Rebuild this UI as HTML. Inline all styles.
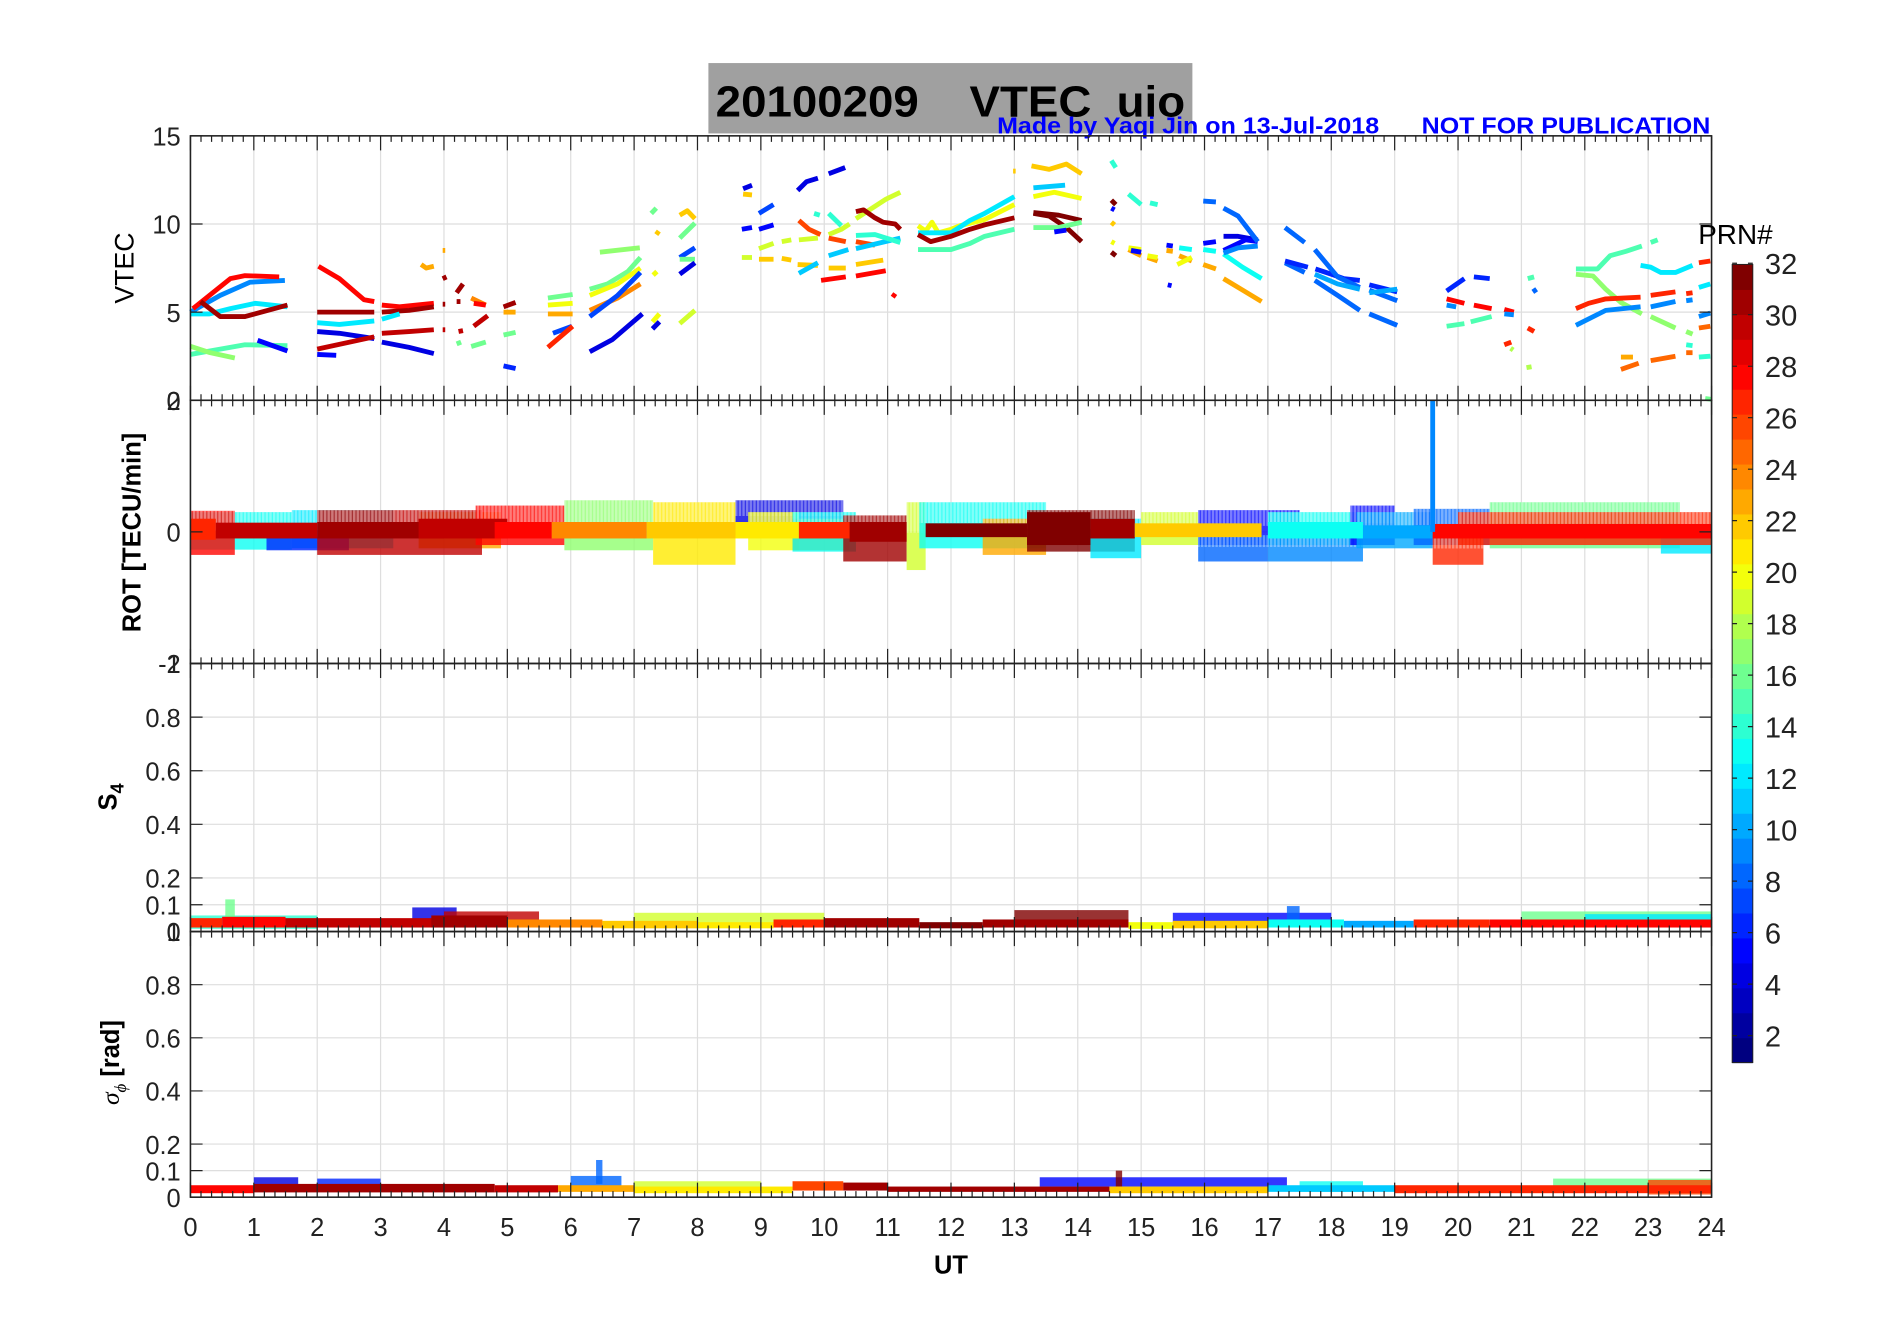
<!DOCTYPE html>
<html><head><meta charset="utf-8"><style>
html,body{margin:0;padding:0;background:#fff;}
svg{display:block;font-family:"Liberation Sans",sans-serif;}
</style></head><body>
<svg id="fig" width="1902" height="1330" viewBox="0 0 1568 1096.5" preserveAspectRatio="none" xmlns="http://www.w3.org/2000/svg">
<defs>
<pattern id="stripes" patternUnits="userSpaceOnUse" width="3" height="10">
<rect x="0" y="0" width="2" height="10" fill="#fff"/>
</pattern>
</defs>
<rect x="0" y="0" width="1568" height="1097" fill="#fff"/>
<rect x="584" y="52" width="399" height="58" fill="#a0a0a0"/>
<text x="590" y="96" font-size="36" font-weight="bold" textLength="387" lengthAdjust="spacingAndGlyphs" xml:space="preserve">20100209    VTEC  uio</text>
<text x="822" y="110" font-size="19" font-weight="bold" fill="#0000ff" textLength="315" lengthAdjust="spacingAndGlyphs">Made by Yaqi Jin on 13-Jul-2018</text>
<text x="1172" y="110" font-size="19" font-weight="bold" fill="#0000ff" textLength="238" lengthAdjust="spacingAndGlyphs">NOT FOR PUBLICATION</text>
<g id="grid"></g>
<g id="marks"></g>
<g id="axes"></g>
<text transform="translate(110,221) rotate(-90)" font-size="22" text-anchor="middle">VTEC</text>
<text transform="translate(116,439) rotate(-90)" font-size="21" font-weight="bold" text-anchor="middle">ROT [TECU/min]</text>
<text transform="translate(96,657) rotate(-90)" font-size="21" font-weight="bold" text-anchor="middle">S<tspan font-size="15" dy="6">4</tspan></text>
<text transform="translate(98,876) rotate(-90)" font-size="21" font-weight="bold" text-anchor="middle"><tspan font-family="Liberation Serif" font-style="italic" font-weight="normal">σ</tspan><tspan font-size="14" dy="6" font-family="Liberation Serif" font-style="italic" font-weight="normal">ϕ</tspan><tspan dy="-6"> [rad]</tspan></text>
<text x="784" y="1050" font-size="21" font-weight="bold" text-anchor="middle">UT</text>
<g id="cbar"></g>
<text x="1400" y="201" font-size="23">PRN#</text>
</svg>
<script>
// ---- data ----
const hourTicks = [0,1,2,3,4,5,6,7,8,9,10,11,12,13,14,15,16,17,18,19,20,21,22,23,24];
const vtecTicks = [0,5,10,15];
const rotTicks = [-2,0,2];
const s4Ticks = [0,0.1,0.2,0.4,0.6,0.8,1];
const sigTicks = [0,0.1,0.2,0.4,0.6,0.8,1];
const prnTicks = [2,4,6,8,10,12,14,16,18,20,22,24,26,28,30,32];
// VTEC tracks: [prn, [hour, tec, hour, tec, ...]]
const vtecTracks = [
[9,[0,5.0,0.47,5.95,0.94,6.7,1.49,6.8]],
[12,[0,4.9,0.3,4.9,0.63,5.2,1.02,5.5,1.53,5.3]],
[28,[0.04,5.2,0.63,6.9,0.86,7.07,1.4,7.0]],
[31,[0.16,5.6,0.47,4.75,0.86,4.75,1.53,5.4]],
[15,[0,2.6,0.47,2.9,0.86,3.15,1.53,3.1]],
[17,[0,3.06,0.31,2.7,0.7,2.4]],
[5,[1.06,3.4,1.53,2.8]],
[28,[2.02,7.6,2.35,6.9,2.74,5.7,2.9,5.6]],
[31,[2,5.0,2.9,5.0]],
[12,[2,4.4,2.35,4.3,2.9,4.5]],
[4,[2,3.9,2.35,3.8,2.9,3.5]],
[30,[2,2.9,2.9,3.6]],
[5,[2,2.6,2.3,2.55]],
[28,[3.02,5.4,3.3,5.3,3.84,5.5]],
[31,[3.02,5.0,3.45,5.1,3.84,5.3]],
[12,[3.02,4.6,3.3,4.9]],
[30,[3.02,3.8,3.45,3.9,3.84,4.0]],
[4,[3.02,3.3,3.45,3.0,3.84,2.65]],
[23,[3.64,7.7,3.72,7.5,3.84,7.6]],
[23,[3.98,8.5,4.02,8.5]],
[31,[3.98,5.45,4.02,5.45]],
[31,[4.2,5.6,4.26,5.6]],
[30,[3.98,4.0,4.02,4.0]],
[30,[4.23,3.9,4.3,3.95]],
[30,[4.47,4.2,4.69,4.8]],
[31,[3.98,6.9,4.04,7.0]],
[31,[4.2,6.1,4.3,6.6]],
[24,[4.43,5.8,4.66,5.4]],
[28,[4.47,5.5,4.66,5.4]],
[16,[4.2,3.2,4.27,3.3]],
[16,[4.43,3.05,4.66,3.3]],
[31,[4.94,5.3,5.13,5.55]],
[23,[4.94,5.0,5.13,5.0]],
[16,[4.94,3.7,5.13,3.85]],
[6,[4.94,1.95,5.13,1.8]],
[16,[5.64,5.8,6.03,6.0]],
[20,[5.64,5.4,6.03,5.5]],
[23,[5.64,4.9,6.03,4.9]],
[7,[5.72,3.8,6.02,4.2]],
[27,[5.64,3.0,6.03,4.2]],
[16,[6.3,6.3,6.58,6.6,6.9,7.3,7.1,8.1]],
[17,[6.46,8.4,7.09,8.65]],
[20,[6.3,5.95,6.74,6.6,7.1,7.5]],
[24,[6.3,5.1,6.74,5.8,7.1,6.6]],
[7,[6.3,4.75,6.74,5.95,7.1,7.25]],
[4,[6.3,2.75,6.66,3.45,7.13,4.9]],
[16,[7.27,10.6,7.35,10.9]],
[20,[7.29,4.45,7.4,4.9]],
[4,[7.29,4.05,7.4,4.45]],
[20,[7.3,7.1,7.36,7.3]],
[22,[7.35,9.4,7.39,9.6]],
[22,[7.72,10.5,7.84,10.75,7.96,10.3]],
[16,[7.72,9.2,7.96,10.05]],
[7,[7.72,8.1,7.96,8.65]],
[16,[7.72,8.0,7.96,8.0]],
[4,[7.72,7.15,7.96,7.8]],
[19,[7.72,4.35,7.96,5.1]],
[4,[8.72,12.0,8.86,12.2]],
[22,[8.72,11.7,8.86,11.65]],
[7,[8.97,10.6,9.2,11.1]],
[5,[8.7,9.7,8.86,9.8]],
[5,[8.97,9.7,9.2,9.95]],
[19,[8.7,8.1,8.86,8.1]],
[19,[8.97,8.6,9.2,8.9]],
[19,[9.33,9.0,9.48,9.1]],
[19,[9.6,9.1,9.9,9.2]],
[19,[10.07,9.4,10.27,9.7,10.4,10.0]],
[19,[10.5,10.3,10.97,11.4,11.2,11.8]],
[22,[8.97,8.0,9.2,8.0]],
[22,[9.33,8.05,9.48,7.95]],
[22,[9.58,7.7,9.9,7.65]],
[22,[10.07,7.5,10.34,7.5]],
[22,[10.5,7.7,10.93,7.95]],
[4,[9.58,11.9,9.72,12.4,9.9,12.6]],
[4,[10.07,12.85,10.33,13.2]],
[14,[9.84,10.6,9.93,10.5]],
[14,[10.07,10.6,10.27,9.9]],
[26,[9.6,10.2,9.76,9.7,9.94,9.4]],
[26,[10.07,9.2,10.34,9.0]],
[26,[10.5,9.0,10.8,8.8]],
[11,[9.6,7.2,9.9,7.8]],
[11,[10.07,8.2,10.38,8.55]],
[11,[10.5,8.6,11.2,9.2]],
[14,[10.5,9.35,10.8,9.4,11.2,8.95]],
[28,[9.95,6.8,10.34,7.0]],
[28,[10.5,7.05,10.97,7.35]],
[31,[10.5,10.7,10.62,10.8,10.8,10.35,10.93,10.1,11.12,10.0,11.2,9.7]],
[28,[11.08,5.85,11.12,6.05]],
[20,[11.48,9.9,11.6,9.6,11.7,10.1,11.8,9.5,12,9.7,12.14,9.9,12.53,10.25,13,11.1]],
[12,[11.48,9.5,12,9.5,12.3,10.2,12.53,10.6,13,11.55]],
[31,[11.48,9.4,11.68,9.0,12,9.3,12.3,9.7,12.53,9.95,13,10.35]],
[15,[11.48,8.55,12,8.55,12.3,8.9,12.53,9.3,13,9.7]],
[22,[13.27,13.3,13.55,13.1,13.82,13.4,14.06,12.85]],
[22,[12.98,13.0,13.02,13.0]],
[11,[13.3,12.05,13.8,12.2]],
[20,[13.3,11.55,13.63,11.8,14.06,11.45]],
[32,[13.3,10.65,13.7,10.5,14.06,10.2]],
[32,[13.3,10.6,13.55,10.45,13.82,9.8,14.06,9.0]],
[16,[13.3,9.8,13.7,9.8,14.06,10.1]],
[5,[13.63,9.55,13.82,9.65]],
[14,[14.53,13.6,14.6,13.2]],
[14,[14.8,11.7,15,11.1]],
[14,[15.14,11.2,15.26,11.1]],
[32,[14.53,11.35,14.6,11.1]],
[32,[14.53,8.4,14.6,8.2]],
[5,[14.53,10.9,14.58,10.8]],
[22,[14.53,10.1,14.58,9.95]],
[20,[14.53,9.0,14.58,8.9]],
[23,[14.8,8.55,15,8.2]],
[23,[15.1,8.1,15.26,7.9]],
[23,[15.4,8.5,15.5,8.45]],
[23,[15.6,8.2,15.8,7.9]],
[23,[15.98,7.7,16.18,7.45]],
[20,[14.8,8.65,15,8.55]],
[20,[15.1,8.2,15.26,8.1]],
[20,[15.57,7.7,15.8,8.1]],
[5,[14.84,8.5,15,8.4]],
[5,[15.4,8.8,15.5,8.75]],
[5,[15.98,8.9,16.18,9.0]],
[5,[15.42,6.55,15.48,6.5]],
[13,[15.6,8.65,15.8,8.55]],
[13,[15.98,8.55,16.18,8.45]],
[13,[16.3,8.3,16.6,7.55,16.9,6.9]],
[23,[16.3,6.9,16.6,6.25,16.9,5.6]],
[4,[16.3,9.3,16.53,9.3,16.84,9.1]],
[5,[16.3,8.5,16.65,9.1,16.84,9.0]],
[9,[16.3,8.35,16.53,8.65,16.84,8.75]],
[8,[15.98,11.3,16.18,11.25]],
[8,[16.3,10.9,16.53,10.45,16.69,9.7,16.84,9.0]],
[8,[17.27,9.8,17.58,8.95]],
[8,[17.27,7.8,17.58,7.25]],
[6,[17.27,7.9,17.63,7.55]],
[6,[17.75,7.45,18,7.15,18.2,6.9,18.45,6.8]],
[6,[18.6,6.55,19.04,6.15]],
[8,[17.74,8.55,18.1,7.0,18.45,6.4]],
[8,[18.6,6.25,19.04,5.65]],
[8,[17.74,6.8,18.1,5.95,18.45,5.1]],
[8,[18.6,4.9,19.04,4.25]],
[10,[17.74,7.15,18.1,6.6,18.45,6.3]],
[10,[18.6,6.1,19.04,6.3]],
[6,[19.82,6.2,20.1,6.9]],
[6,[20.25,7.0,20.5,6.9]],
[28,[19.82,5.75,20.1,5.5]],
[28,[20.25,5.4,20.53,5.2]],
[28,[20.73,5.15,20.88,5.0]],
[9,[19.82,5.4,19.97,5.3]],
[9,[20.73,4.9,20.88,4.85]],
[15,[19.82,4.2,20.1,4.35]],
[15,[20.2,4.45,20.53,4.75]],
[15,[21.1,6.9,21.2,7.0]],
[8,[21.18,6.15,21.24,6.3]],
[27,[21.1,4.1,21.2,3.9]],
[27,[20.73,3.15,20.84,3.3]],
[18,[20.83,2.95,20.87,2.85]],
[18,[21.08,1.85,21.16,1.9]],
[15,[21.86,7.45,22.2,7.45,22.4,8.2,22.65,8.45,22.9,8.75]],
[15,[23.04,8.95,23.15,9.1]],
[17,[21.86,7.15,22.13,7.05,22.33,6.3,22.57,5.55,22.9,4.9]],
[17,[23.04,4.75,23.43,4.1]],
[17,[23.6,3.9,23.7,3.75]],
[27,[21.86,5.2,22.06,5.5,22.33,5.75,22.88,5.85]],
[27,[23.04,5.95,23.43,6.15]],
[27,[23.6,6.05,23.7,6.1]],
[27,[23.8,7.8,23.98,7.9]],
[9,[21.86,4.25,22.33,5.1,22.88,5.3]],
[9,[23.04,5.3,23.43,5.6]],
[9,[23.6,5.65,23.7,5.7]],
[9,[23.8,4.75,23.98,4.95]],
[12,[22.88,7.65,23.04,7.55,23.2,7.25,23.43,7.25,23.7,7.65]],
[12,[23.8,6.4,23.98,6.6]],
[23,[22.57,2.45,22.76,2.45]],
[25,[22.57,1.75,22.85,2.1]],
[25,[23.04,2.25,23.43,2.5]],
[25,[23.6,2.7,23.7,2.7]],
[25,[23.8,4.1,23.98,4.2]],
[14,[23.6,3.15,23.7,3.1]],
[14,[23.8,2.45,23.98,2.5]],
[16,[23.9,0.1,24,0.05]]
];
// ROT envelopes: [prn, t0, t1, lo, hi] (TECU/min)
const rotOuter = [
[13,0,1.6,-0.27,0.3],[28,0,0.7,-0.35,0.32],[12,1.6,3.2,-0.25,0.33],[6,1.2,2.5,-0.28,0.1],
[23,3.6,4.9,-0.25,0.3],[30,2,4.6,-0.35,0.33],[28,4.5,5.9,-0.2,0.4],[17,5.9,7.3,-0.28,0.48],
[21,7.3,8.6,-0.5,0.45],[4,8.6,10.3,-0.05,0.48],[20,8.8,9.6,-0.28,0.3],[24,9.5,10.4,-0.28,0.2],
[13,9.5,10.5,-0.3,0.3],[31,10.3,11.3,-0.45,0.25],[19,11.3,11.6,-0.58,0.45],[13,11.5,13.5,-0.25,0.45],
[23,12.5,13.5,-0.35,0.2],[32,13.2,14.9,-0.3,0.33],[12,14.2,15,-0.4,0.2],[19,15,15.9,-0.2,0.3],
[5,15.9,17.5,-0.2,0.33],[8,15.9,17,-0.45,-0.05],[13,17,18.5,-0.2,0.3],[9,17,18.5,-0.45,-0.05],
[5,18.3,19,-0.2,0.4],[10,18.4,19.6,-0.25,0.3],[8,19.3,20.5,-0.2,0.35],[27,19.6,20.4,-0.5,-0.05],
[16,20.5,23.5,-0.25,0.45],[12,23.2,24,-0.33,0.1],[27,20,24,-0.2,0.3]
];
const rotCore = [
[27,0,0.4,-0.12,0.2],[30,0.4,2,-0.1,0.14],[31,2,4,-0.1,0.15],[30,3.6,5,-0.1,0.2],[28,4.8,5.7,-0.1,0.15],
[24,5.7,7.2,-0.1,0.15],[22,7.2,8.6,-0.1,0.15],[21,8.6,9.6,-0.1,0.15],[27,9.6,10.5,-0.1,0.15],
[31,10.4,11.3,-0.15,0.15],[32,11.6,13.2,-0.08,0.13],[32,13.2,14.2,-0.2,0.3],[31,14.2,14.9,-0.1,0.2],
[22,14.9,16.9,-0.08,0.13],[13,17,18.5,-0.1,0.15],[10,18.5,19.6,-0.1,0.1],[28,19.6,24,-0.1,0.12]
];
const rotSpike = [[9,19.6,2.0]];
// S4 envelopes
const s4Outer = [
[14,0,2,0.01,0.06],[16,0.55,0.7,0.02,0.12],[4,3.5,4.2,0.03,0.09],[30,4,5.5,0.02,0.075],
[19,7,10,0.02,0.07],[32,13,14.8,0.02,0.08],[5,15.5,18,0.03,0.07],[8,17.3,17.5,0.03,0.095],
[16,21,24,0.02,0.075],[12,22,24,0.02,0.065]
];
const s4Core = [
[27,0,0.5,0.015,0.05],[28,0.5,1.5,0.015,0.055],[30,1.5,4.5,0.015,0.05],[31,3.8,5,0.015,0.06],
[24,5,6.5,0.015,0.045],[22,6.5,8,0.012,0.04],[21,8,9.2,0.012,0.035],[27,9.2,10,0.015,0.045],
[31,10,11.5,0.015,0.05],[32,11.5,12.5,0.012,0.035],[31,12.5,14.8,0.015,0.045],[20,14.8,15.5,0.01,0.035],
[22,15.5,17,0.012,0.04],[13,17,18.2,0.015,0.045],[10,18.2,19.3,0.015,0.04],[27,19.3,20.5,0.015,0.045],
[28,20.5,24,0.015,0.045]
];
// sigma-phi envelopes
const sigOuter = [
[4,1,1.7,0.03,0.075],[6,2,3,0.03,0.07],[8,6,6.8,0.03,0.08],[8,6.4,6.5,0.05,0.14],
[19,7,9,0.02,0.06],[5,13.4,17.3,0.04,0.075],[32,14.6,14.7,0.04,0.1],[13,17.5,18.5,0.02,0.06],
[16,21.5,24,0.02,0.07],[26,23,24,0.01,0.065]
];
const sigCore = [
[28,0,1,0.015,0.045],[31,1,4.8,0.018,0.05],[30,4.8,5.8,0.018,0.045],[23,5.8,7,0.02,0.045],
[21,7,9.5,0.015,0.04],[26,9.5,10.3,0.025,0.06],[31,10.3,11,0.025,0.055],[31,11,14.5,0.02,0.04],
[22,14.5,17,0.015,0.04],[11,17,19,0.02,0.045],[27,19,24,0.015,0.045]
];

// ---- layout / scales ----
const NS = "http://www.w3.org/2000/svg";
const L = 157, R = 1411;
const panels = [
 {name:'vtec', top:112, bot:330, min:0, max:15, ticks:vtecTicks},
 {name:'rot', top:330, bot:547, min:-2, max:2, ticks:rotTicks},
 {name:'s4', top:547, bot:768, min:0, max:1, ticks:s4Ticks},
 {name:'sigma', top:768, bot:987, min:0, max:1, ticks:sigTicks}
];
function X(h){ return L + h*(R-L)/24; }
function Yp(p,v){ return p.bot - (v-p.min)/(p.max-p.min)*(p.bot-p.top); }
function jet(prn){
  const x=(prn-1)/31;
  const c=v=>Math.round(255*Math.max(0,Math.min(1,v)));
  return `rgb(${c(1.5-Math.abs(4*x-3))},${c(1.5-Math.abs(4*x-2))},${c(1.5-Math.abs(4*x-1))})`;
}
function mk(tag, attrs, parent){
  const e=document.createElementNS(NS,tag);
  for(const k in attrs) e.setAttribute(k,attrs[k]);
  parent.appendChild(e); return e;
}
const grid=document.getElementById('grid'), marks=document.getElementById('marks'), axes=document.getElementById('axes');

// grid + axes
panels.forEach(p=>{
  hourTicks.forEach(h=>{
    const g=mk('line',{x1:X(h),x2:X(h),y1:p.top,y2:p.bot,stroke:'#dedede','stroke-width':1},grid);
    
    
  });
  p.ticks.forEach(v=>{
    const g=mk('line',{x1:L,x2:R,y1:Yp(p,v),y2:Yp(p,v),stroke:'#dedede','stroke-width':1},grid);
    
    
  });
  const fr=mk('rect',{x:L,y:p.top,width:R-L,height:p.bot-p.top,fill:'none',stroke:'#222','stroke-width':1.3},axes);
  
  
  let d='';
  for(let m=0;m<=144;m++){
    const x=X(m/6), len=(m%6===0)?12:5;
    d+=`M${x},${p.top}v${len}M${x},${p.bot}v${-len}`;
  }
  p.ticks.forEach(v=>{ const y=Yp(p,v); d+=`M${L},${y}h10M${R},${y}h-10`; });
  const tk=mk('path',{d:d,stroke:'#222','stroke-width':1,fill:'none'},axes);
  
  
  p.ticks.forEach(v=>{
    const t=mk('text',{x:L-8,y:Yp(p,v)+8,'font-size':21,'text-anchor':'end',fill:'#222'},axes);
    t.textContent=String(v);
    
    
  });
});
hourTicks.forEach(h=>{
  const t=mk('text',{x:X(h),y:1019,'font-size':21,'text-anchor':'middle',fill:'#222'},axes);
  t.textContent=String(h);
  
  
});

// VTEC lines
const pv=panels[0];
vtecTracks.forEach(tr=>{
  const a=tr[1]; let pts=[];
  for(let i=0;i<a.length;i+=2) pts.push(X(a[i])+','+Yp(pv,a[i+1]));
  const e=mk('polyline',{points:pts.join(' '),fill:'none',stroke:jet(tr[0]),'stroke-width':4,'stroke-linejoin':'round','stroke-linecap':'butt'},marks);
  
  
});
function bands(p, arr, op, nm, striped){
  arr.forEach(s=>{
    const y1=Yp(p,s[4]), y2=Yp(p,s[3]);
    const w=Math.max(1.5,X(s[2])-X(s[1])), h=Math.max(1.5,y2-y1);
    const e=mk('rect',{x:X(s[1]),y:y1,width:w,height:h,fill:jet(s[0]),opacity:op},marks);
    
    
    if(striped){
      const st=mk('rect',{x:X(s[1]),y:y1,width:w,height:h*0.45,fill:'url(#stripes)',opacity:0.35},marks);
      
      
    }
  });
}
bands(panels[1], rotOuter, 0.8, 'rot-spread', true);
bands(panels[1], rotCore, 1, 'rot-core', false);
rotSpike.forEach(s=>{
  const e=mk('line',{x1:X(s[1]),x2:X(s[1]),y1:Yp(panels[1],0),y2:Yp(panels[1],s[2]),stroke:jet(s[0]),'stroke-width':4},marks);
  
  
});
bands(panels[2], s4Outer, 0.8, 's4-spread', false);
bands(panels[2], s4Core, 1, 's4-core', false);
bands(panels[3], sigOuter, 0.8, 'sigma-spread', false);
bands(panels[3], sigCore, 1, 'sigma-core', false);

// colorbar
const cb=document.getElementById('cbar');
const CX=1428, CW=17, CT=218, CB=876;
const SW=(CB-CT)/32;
for(let k=1;k<=32;k++){
  const e=mk('rect',{x:CX,y:CB-k*SW,width:CW,height:SW+0.5,fill:jet(k)},cb);
  
  
}
function CY(v){ return CB - (v-1)/31*(CB-CT) - 1; }
prnTicks.forEach(v=>{
  const y=CY(v);
  const l=mk('path',{d:`M${CX},${y}h4M${CX+CW},${y}h-4`,stroke:'#222','stroke-width':1},cb);
  
  
  const t=mk('text',{x:1455,y:y+9,'font-size':24,fill:'#222'},cb);
  t.textContent=String(v);
  
  
});
const cf=mk('rect',{x:CX,y:CT,width:CW,height:CB-CT,fill:'none',stroke:'#222','stroke-width':0.8},cb);


</script>
</body></html>
